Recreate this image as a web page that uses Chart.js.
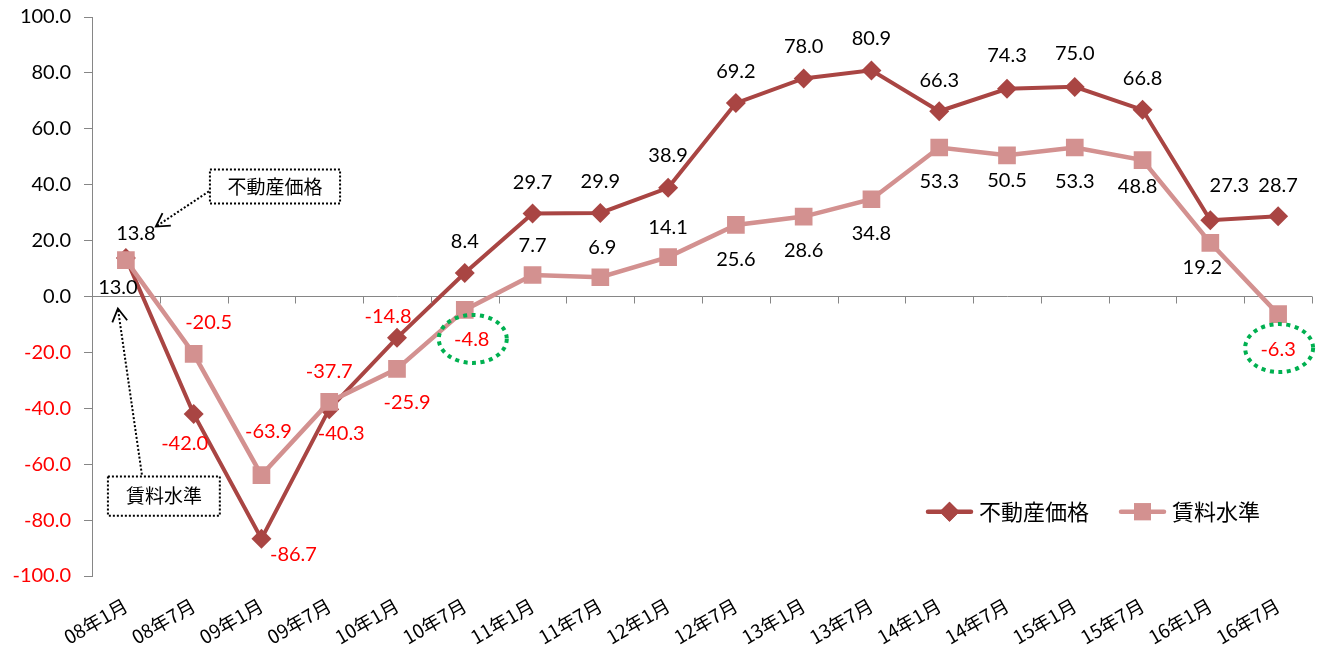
<!DOCTYPE html>
<html>
<head>
<meta charset="utf-8">
<script src="https://cdn.jsdelivr.net/npm/chart.js@4/dist/chart.umd.min.js"></script>
<style>
html,body{margin:0;padding:0;background:#ffffff;}
#wrap{width:1318px;height:657px;position:relative;}
</style>
</head>
<body>
<div id="wrap"><canvas id="c" width="1318" height="657"></canvas></div>
<script>
// ---- data ----
const categories = ['08年1月','08年7月','09年1月','09年7月','10年1月','10年7月','11年1月','11年7月','12年1月','12年7月','13年1月','13年7月','14年1月','14年7月','15年1月','15年7月','16年1月','16年7月'];
const priceValues = [13.8, -42.0, -86.7, -40.3, -14.8, 8.4, 29.7, 29.9, 38.9, 69.2, 78.0, 80.9, 66.3, 74.3, 75.0, 66.8, 27.3, 28.7];
const rentValues  = [13.0, -20.5, -63.9, -37.7, -25.9, -4.8, 7.7, 6.9, 14.1, 25.6, 28.6, 34.8, 53.3, 50.5, 53.3, 48.8, 19.2, -6.3];
const yTickValues = [100, 80, 60, 40, 20, 0, -20, -40, -60, -80, -100];
const seriesNames = ['不動産価格', '賃料水準'];

// ---- label layout (pixel offsets of each value label from its point) ----
const priceLabelOffsets = [[10,-24],[-9,30],[32,16],[12,24],[-9,-21],[0,-31],[0,-31],[0,-31],[0,-32],[0,-32],[0,-32],[0,-32],[0,-31],[0,-33],[0,-33],[0,-31],[19,-35],[0,-31]];
const rentLabelOffsets  = [[-8,27],[15,-31],[7,-44],[0,-30],[10,34],[7,30],[0,-29],[2,-30],[0,-30],[0,35],[0,34],[0,34],[0,34],[0,25],[0,34],[-5,26],[-8,25],[0,35]];
const rentHighlighted = [5, 17];

// callouts anchored in data space (category index, value)
const callouts = [
  {text: '不動産価格', box: [1.24, 45.4, 3.16, 33.3], from: [1.224, 37.6], to: [0.442, 25.0]},
  {text: '賃料水準', box: [-0.265, -64.4, 1.386, -78.4], from: [0.236, -63.7], to: [-0.118, -4.3]}
];

const priceColor = '#A94543';
const rentColor = '#D39190';
const axisColor = '#868686';
const negColor = '#FF0000';
const numFont = 'Lato, "Noto Sans", sans-serif';
const jpFont = '"Noto Sans CJK JP", "Noto Sans", sans-serif';

const zeroAxisPlugin = {
  id: 'zeroAxis',
  afterDatasetsDraw(chart) {
    const xs = chart.scales.x, ys = chart.scales.y, ctx = chart.ctx;
    const y0 = ys.getPixelForValue(0);
    ctx.save();
    ctx.strokeStyle = axisColor;
    ctx.lineWidth = 1;
    for (let k = 1; k <= categories.length; k++) {
      const x = Math.round(xs.getPixelForValue(k - 0.5)) + 0.5;
      ctx.beginPath();
      ctx.moveTo(x, y0);
      ctx.lineTo(x, y0 + 7);
      ctx.stroke();
    }
    ctx.restore();
  }
};

function drawArrowHead(ctx, fx, fy, tx, ty, len) {
  const ang = Math.atan2(fy - ty, fx - tx);
  ctx.beginPath();
  ctx.moveTo(tx + len * Math.cos(ang - Math.PI / 6), ty + len * Math.sin(ang - Math.PI / 6));
  ctx.lineTo(tx, ty);
  ctx.lineTo(tx + len * Math.cos(ang + Math.PI / 6), ty + len * Math.sin(ang + Math.PI / 6));
  ctx.stroke();
}

const labelPlugin = {
  id: 'valueLabels',
  afterDatasetsDraw(chart) {
    const ctx = chart.ctx;
    const xs = chart.scales.x, ys = chart.scales.y;
    ctx.save();
    ctx.font = '20px ' + numFont;
    ctx.textAlign = 'center';
    ctx.textBaseline = 'middle';
    const sets = [[priceValues, priceLabelOffsets, 1], [rentValues, rentLabelOffsets, 0]];
    const rentCenters = {};
    sets.forEach(([vals, offs, dsIndex]) => {
      const meta = chart.getDatasetMeta(dsIndex);
      vals.forEach((v, i) => {
        const pt = meta.data[i];
        const x = pt.x + offs[i][0];
        const y = pt.y + offs[i][1];
        ctx.fillStyle = v < 0 ? negColor : '#000000';
        ctx.fillText(v.toFixed(1), x, y);
        if (vals === rentValues) rentCenters[i] = [x, y];
      });
    });
    // green dotted ellipses
    ctx.strokeStyle = '#00B050';
    ctx.lineWidth = 4;
    ctx.setLineDash([4, 4.5]);
    rentHighlighted.forEach(i => {
      const c = rentCenters[i];
      ctx.beginPath();
      ctx.ellipse(c[0] + 1, c[1] - 1, 34, 24, 0, 0, Math.PI * 2);
      ctx.stroke();
    });
    ctx.setLineDash([]);
    // callouts
    callouts.forEach(co => {
      const bx0 = xs.getPixelForValue(co.box[0]), by0 = ys.getPixelForValue(co.box[1]);
      const bx1 = xs.getPixelForValue(co.box[2]), by1 = ys.getPixelForValue(co.box[3]);
      ctx.fillStyle = '#ffffff';
      ctx.fillRect(bx0, by0, bx1 - bx0, by1 - by0);
      ctx.strokeStyle = '#000000';
      ctx.lineWidth = 2;
      ctx.setLineDash([2, 2]);
      ctx.strokeRect(bx0, by0, bx1 - bx0, by1 - by0);
      const fx = xs.getPixelForValue(co.from[0]), fy = ys.getPixelForValue(co.from[1]);
      const tx = xs.getPixelForValue(co.to[0]), ty = ys.getPixelForValue(co.to[1]);
      ctx.beginPath();
      ctx.moveTo(fx, fy);
      ctx.lineTo(tx, ty);
      ctx.stroke();
      ctx.setLineDash([]);
      ctx.lineWidth = 1.8;
      drawArrowHead(ctx, fx, fy, tx, ty, 15);
      ctx.fillStyle = '#000000';
      ctx.font = '19px ' + jpFont;
      ctx.fillText(co.text, (bx0 + bx1) / 2, (by0 + by1) / 2);
    });
    ctx.restore();
  }
};

function yPixel(chart, v) { return chart.scales.y.getPixelForValue(v); }

const legendPlugin = {
  id: 'customLegend',
  afterDraw(chart) {
    const ctx = chart.ctx, area = chart.chartArea;
    ctx.save();
    ctx.font = '22px ' + jpFont;
    ctx.textBaseline = 'middle';
    ctx.textAlign = 'left';
    let x = area.right - 386;
    const y = yPixel(chart, -77.0);
    const items = [
      {name: seriesNames[0], color: priceColor, style: 'rectRot', r: 10},
      {name: seriesNames[1], color: rentColor, style: 'rect', r: 12},
    ];
    items.forEach(it => {
      ctx.strokeStyle = it.color;
      ctx.lineWidth = 4.5;
      ctx.lineCap = 'round';
      ctx.beginPath();
      ctx.moveTo(x + 2, y);
      ctx.lineTo(x + 45, y);
      ctx.stroke();
      ctx.fillStyle = it.color;
      Chart.helpers.drawPoint(ctx, {pointStyle: it.style, radius: it.r, borderWidth: 0}, x + 23.5, y);
      ctx.fill();
      ctx.fillStyle = '#000000';
      ctx.fillText(it.name, x + 53, y);
      x += 53 + ctx.measureText(it.name).width + 30;
    });
    ctx.restore();
  }
};

new Chart(document.getElementById('c'), {
  type: 'line',
  data: {
    labels: categories,
    datasets: [
      {
        label: seriesNames[1], data: rentValues, order: 0,
        borderColor: rentColor, backgroundColor: rentColor, borderWidth: 4.5,
        pointStyle: 'rect', pointRadius: 12.5, pointHoverRadius: 12.5, pointBorderWidth: 0,
        pointBackgroundColor: rentColor, tension: 0, fill: false
      },
      {
        label: seriesNames[0], data: priceValues, order: 1,
        borderColor: priceColor, backgroundColor: priceColor, borderWidth: 4,
        pointStyle: 'rectRot', pointRadius: 10, pointHoverRadius: 10, pointBorderWidth: 0,
        pointBackgroundColor: priceColor, tension: 0, fill: false
      }
    ]
  },
  options: {
    responsive: false,
    animation: false,
    devicePixelRatio: 1,
    layout: {autoPadding: false, padding: {left: 0, right: 6, top: 17, bottom: 0}},
    plugins: {legend: {display: false}, tooltip: {enabled: false}},
    scales: {
      x: {
        type: 'category',
        offset: true,
        grid: {display: false, drawTicks: false},
        border: {display: false},
        ticks: {
          autoSkip: false, minRotation: 30, maxRotation: 30, padding: 18,
          color: '#000000', font: {family: jpFont, size: 19}
        },
        afterFit(scale) { scale.height = 81; scale.paddingLeft = 0; scale.paddingRight = 0; }
      },
      y: {
        min: -100, max: 100,
        afterBuildTicks(scale) { scale.ticks = yTickValues.map(v => ({value: v})); },
        grid: {
          drawOnChartArea: true, drawTicks: true, tickLength: 8,
          color: ctx => (ctx.tick && ctx.tick.value === 0) ? axisColor : 'rgba(0,0,0,0)',
          tickColor: axisColor, lineWidth: 1
        },
        border: {display: true, color: axisColor, width: 1},
        ticks: {
          padding: 13,
          color: ctx => (ctx.tick && ctx.tick.value < 0) ? negColor : '#000000',
          font: {family: numFont, size: 20},
          callback: v => Number(v).toFixed(1)
        },
        afterFit(scale) { scale.width = 92; scale.paddingTop = 0; scale.paddingBottom = 0; }
      }
    }
  },
  plugins: [zeroAxisPlugin, labelPlugin, legendPlugin]
});
</script>
</body>
</html>
